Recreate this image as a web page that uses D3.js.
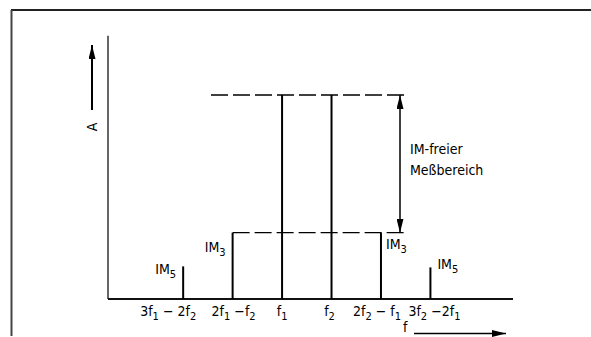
<!DOCTYPE html>
<html><head><meta charset="utf-8">
<script src="https://cdn.jsdelivr.net/npm/d3@7"></script>
<style>
html,body{margin:0;padding:0;background:#fff;}
svg{display:block;}
text{font-family:"DejaVu Sans Condensed","DejaVu Sans",sans-serif;fill:#000;}
</style></head>
<body>
<svg id="chart" width="591" height="337"></svg>
<script>
// ---- data ----
const freqLabels = ["3f_1 − 2f_2", "2f_1 −f_2", "f_1", "f_2", "2f_2 − f_1", "3f_2 −2f_1"];
const freqPos = [-2, -1, 0, 1, 2, 3];           // frequency in units of (f2 − f1), relative to f1
const amplitudes = [16, 32.5, 100, 100, 32.5, 15.5];
const productNames = ["IM_5", "IM_3", "", "", "IM_3", "IM_5"];
const yAxisLabel = "A";
const xAxisLabel = "f";
const rangeLabel = ["IM-freier", "Meßbereich"];

// ---- layout ----
const W = 591, H = 337;
const FS = 14, SUB = 11;
const svg = d3.select("#chart");
const x = d3.scaleLinear().domain([-3.52, 4.67]).range([108, 513]);
const y = d3.scaleLinear().domain([0, 100]).range([299, 95]);
const yTop = 129;

function addSubText(sel, str) {
  const parts = str.split(/(_\d)/).filter(p => p);
  let lowered = false;
  parts.forEach(p => {
    if (p.startsWith("_")) {
      sel.append("tspan").attr("font-size", SUB).attr("dy", 4).text(p.slice(1));
      lowered = true;
    } else {
      const t = sel.append("tspan").attr("font-size", FS).text(p);
      if (lowered) { t.attr("dy", -4); lowered = false; }
    }
  });
}

// frame
svg.append("line").attr("x1", 11).attr("x2", W).attr("y1", 10).attr("y2", 10)
  .attr("stroke", "#222").attr("stroke-width", 2);
svg.append("line").attr("x1", 11.5).attr("x2", 11.5).attr("y1", 10).attr("y2", 336)
  .attr("stroke", "#444").attr("stroke-width", 2);

// axes lines
svg.append("line").attr("x1", x.range()[0]).attr("x2", x.range()[0])
  .attr("y1", y(yTop)).attr("y2", y(0)).attr("stroke", "#333").attr("stroke-width", 1.5);
svg.append("line").attr("x1", x.range()[0]).attr("x2", x.range()[1])
  .attr("y1", y(0)).attr("y2", y(0)).attr("stroke", "#111").attr("stroke-width", 1.8);

// arrow marker
const defs = svg.append("defs");
defs.append("marker").attr("id", "ah").attr("viewBox", "0 0 10 10")
  .attr("refX", 10).attr("refY", 5).attr("markerWidth", 14).attr("markerHeight", 7)
  .attr("markerUnits", "userSpaceOnUse").attr("orient", "auto-start-reverse")
  .attr("preserveAspectRatio", "none")
  .append("path").attr("d", "M0,0 L10,5 L0,10 Z").attr("fill", "#000");

// y axis arrow + label
svg.append("line").attr("x1", 92).attr("x2", 92).attr("y1", 110).attr("y2", 45)
  .attr("stroke", "#000").attr("stroke-width", 2).attr("marker-end", "url(#ah)");
svg.append("text").attr("transform", "translate(97,127) rotate(-90)")
  .attr("text-anchor", "middle").attr("font-size", FS).text(yAxisLabel);

// x axis arrow + label
svg.append("text").attr("x", 403).attr("y", 332).attr("font-size", FS).text(xAxisLabel);
svg.append("line").attr("x1", 414).attr("x2", 506).attr("y1", 333.5).attr("y2", 333.5)
  .attr("stroke", "#000").attr("stroke-width", 1.5).attr("marker-end", "url(#ah)");

// dashed reference lines
const carrierAmp = d3.max(amplitudes);
const im3Amp = amplitudes[1];
svg.append("line").attr("x1", 211).attr("x2", 405).attr("y1", y(carrierAmp)).attr("y2", y(carrierAmp))
  .attr("stroke", "#000").attr("stroke-width", 1.3).attr("stroke-dasharray", "17,5");
svg.append("line").attr("x1", x(freqPos[1])).attr("x2", 405).attr("y1", y(im3Amp)).attr("y2", y(im3Amp))
  .attr("stroke", "#000").attr("stroke-width", 1.3).attr("stroke-dasharray", "17,5");

// bars (spectral lines)
svg.selectAll("line.bar").data(freqPos).join("line").attr("class", "bar")
  .attr("x1", d => x(d)).attr("x2", d => x(d))
  .attr("y1", y(0)).attr("y2", (d, i) => y(amplitudes[i]))
  .attr("stroke", "#000").attr("stroke-width", 2);

// double arrow (measurement range)
svg.append("line").attr("x1", 400).attr("x2", 400).attr("y1", y(carrierAmp)).attr("y2", y(im3Amp))
  .attr("stroke", "#000").attr("stroke-width", 1.5)
  .attr("marker-start", "url(#ah)").attr("marker-end", "url(#ah)");
svg.append("text").attr("x", 410).attr("y", 154).attr("font-size", FS).text(rangeLabel[0]);
svg.append("text").attr("x", 410).attr("y", 175).attr("font-size", FS).text(rangeLabel[1]);

// product labels (IM3 / IM5)
const labelOffsets = [[-7, 8], [-7, 19], null, null, [5, 16], [7, 2]];
productNames.forEach((n, i) => {
  if (!n) return;
  const [dx, dy] = labelOffsets[i];
  const t = svg.append("text")
    .attr("x", x(freqPos[i]) + dx).attr("y", y(amplitudes[i]) + dy)
    .attr("font-size", FS).attr("text-anchor", dx < 0 ? "end" : "start");
  addSubText(t, n);
});

// frequency tick labels
const tickShift = [-15, 1, 0, -2, -4, 4];
freqLabels.forEach((lab, i) => {
  const t = svg.append("text").attr("x", x(freqPos[i]) + tickShift[i]).attr("y", 316)
    .attr("font-size", FS).attr("text-anchor", "middle");
  addSubText(t, lab);
});
</script>
</body></html>
